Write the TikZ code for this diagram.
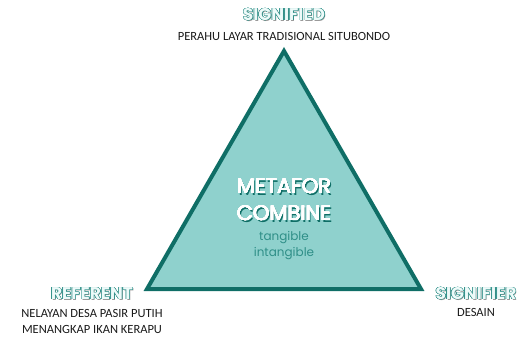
\documentclass[tikz,border=0pt]{standalone}
\usepackage{fontspec}
\setmainfont{Carlito}
\newfontfamily\geo{Poppins}
\usepackage[copies]{contour}
\contourlength{0.45pt}
\definecolor{tealdark}{HTML}{0F6E66}
\definecolor{tealfill}{HTML}{8FD1CD}
\definecolor{tealtext}{HTML}{2F8F88}
\definecolor{textgrey}{HTML}{1A1A1A}
\definecolor{paleout}{HTML}{EEFAF9}
\definecolor{shadowgrey}{HTML}{9A9A9A}
\newcommand{\outlined}[1]{\rlap{\hspace{0.9pt}\raisebox{-0.9pt}{\textcolor{shadowgrey}{#1}}}\contour{tealtext}{\textcolor{paleout}{#1}}}
\newcommand{\shadowed}[1]{\rlap{\hspace{1.5pt}\raisebox{-1.5pt}{\textcolor{tealdark}{#1}}}{\contourlength{0.3pt}\contour{white}{\textcolor{white}{#1}}}}
\begin{document}
\begin{tikzpicture}[x=1pt,y=-1pt,
  titletext/.style={font=\geo\bfseries\fontsize{17}{17}\selectfont, inner sep=0pt},
  bodytext/.style={font=\fontsize{12.5}{16.5}\selectfont, text=textgrey, align=center, inner sep=0pt},
  bigtext/.style={font=\geo\fontsize{21}{21}\selectfont, inner sep=0pt},
  smalltext/.style={font=\geo\fontsize{12}{12}\selectfont, text=tealtext, inner sep=0pt},
  tri/.style={draw=tealdark, fill=tealfill, line width=4pt, line join=miter}]
\useasboundingbox (0,0) rectangle (523,340);
\coordinate (apex) at (284,51);
\coordinate (bl) at (147,289);
\coordinate (br) at (421,289);
\draw[tri] (apex) -- (bl) -- (br) -- cycle;
% titles
\node[titletext] (signified) at (284,15) {\outlined{SIGNIFIED}};
\node[bodytext] (perahu) at (284,36) {PERAHU LAYAR TRADISIONAL SITUBONDO};
\node[titletext] (referent) at (92,294) {\outlined{REFERENT}};
\node[bodytext] (nelayan) at (92,321.5) {NELAYAN DESA PASIR PUTIH\\MENANGKAP IKAN KERAPU};
\node[titletext] (signifier) at (476,294) {\outlined{SIGNIFIER}};
\node[bodytext] (desain) at (476,312) {DESAIN};
% center
\node[bigtext] (metafor) at (284,187) {\shadowed{METAFOR}};
\node[bigtext] (combine) at (284,214) {\shadowed{COMBINE}};
\node[smalltext] (tangible) at (284,238) {tangible};
\node[smalltext] (intangible) at (284,254) {intangible};
\end{tikzpicture}
\end{document}
